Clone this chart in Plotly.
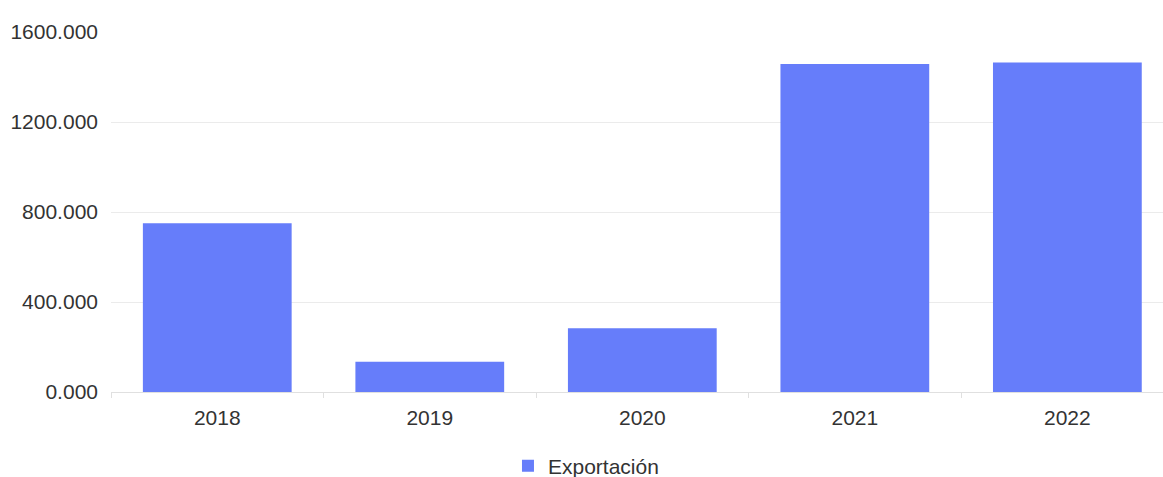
import plotly.graph_objects as go

years = ["2018", "2019", "2020", "2021", "2022"]
exportacion = [750, 135, 283, 1458, 1465]
y_ticks = [0, 400, 800, 1200, 1600]

fig = go.Figure()
fig.add_trace(go.Bar(
    x=years,
    y=exportacion,
    name="Exportación",
    marker=dict(color="#667dfa", line=dict(width=0)),
    showlegend=True,
))

fig.update_layout(
    width=1163,
    height=477,
    margin=dict(l=111, r=0, t=32, b=85, autoexpand=False),
    paper_bgcolor="white",
    plot_bgcolor="white",
    font=dict(family="Liberation Sans, Arial, sans-serif", size=21, color="#333333"),
    bargap=0.3,
    showlegend=True,
    legend=dict(
        orientation="h",
        x=0.4515, xanchor="center",
        y=-0.2056, yanchor="middle",
        font=dict(size=21, color="#333333"),
        itemwidth=30,
    ),
    xaxis=dict(
        type="category",
        range=[-0.5, 4.45],
        automargin=False,
        showline=True,
        linecolor="#e0e0e0",
        linewidth=1,
        ticks="outside",
        tickson="boundaries",
        ticklen=5,
        tickcolor="#e0e0e0",
        showgrid=False,
        ticklabelstandoff=7,
        tickfont=dict(size=21, color="#333333"),
    ),
    yaxis=dict(
        range=[0, 1600],
        tickvals=y_ticks,
        tickformat=".3f",
        automargin=False,
        showgrid=True,
        gridcolor="#ebebeb",
        gridwidth=1,
        zeroline=False,
        showline=False,
        ticks="",
        ticklabelstandoff=12,
        tickfont=dict(size=21, color="#333333"),
    ),
)

fig.write_html("out.html")
